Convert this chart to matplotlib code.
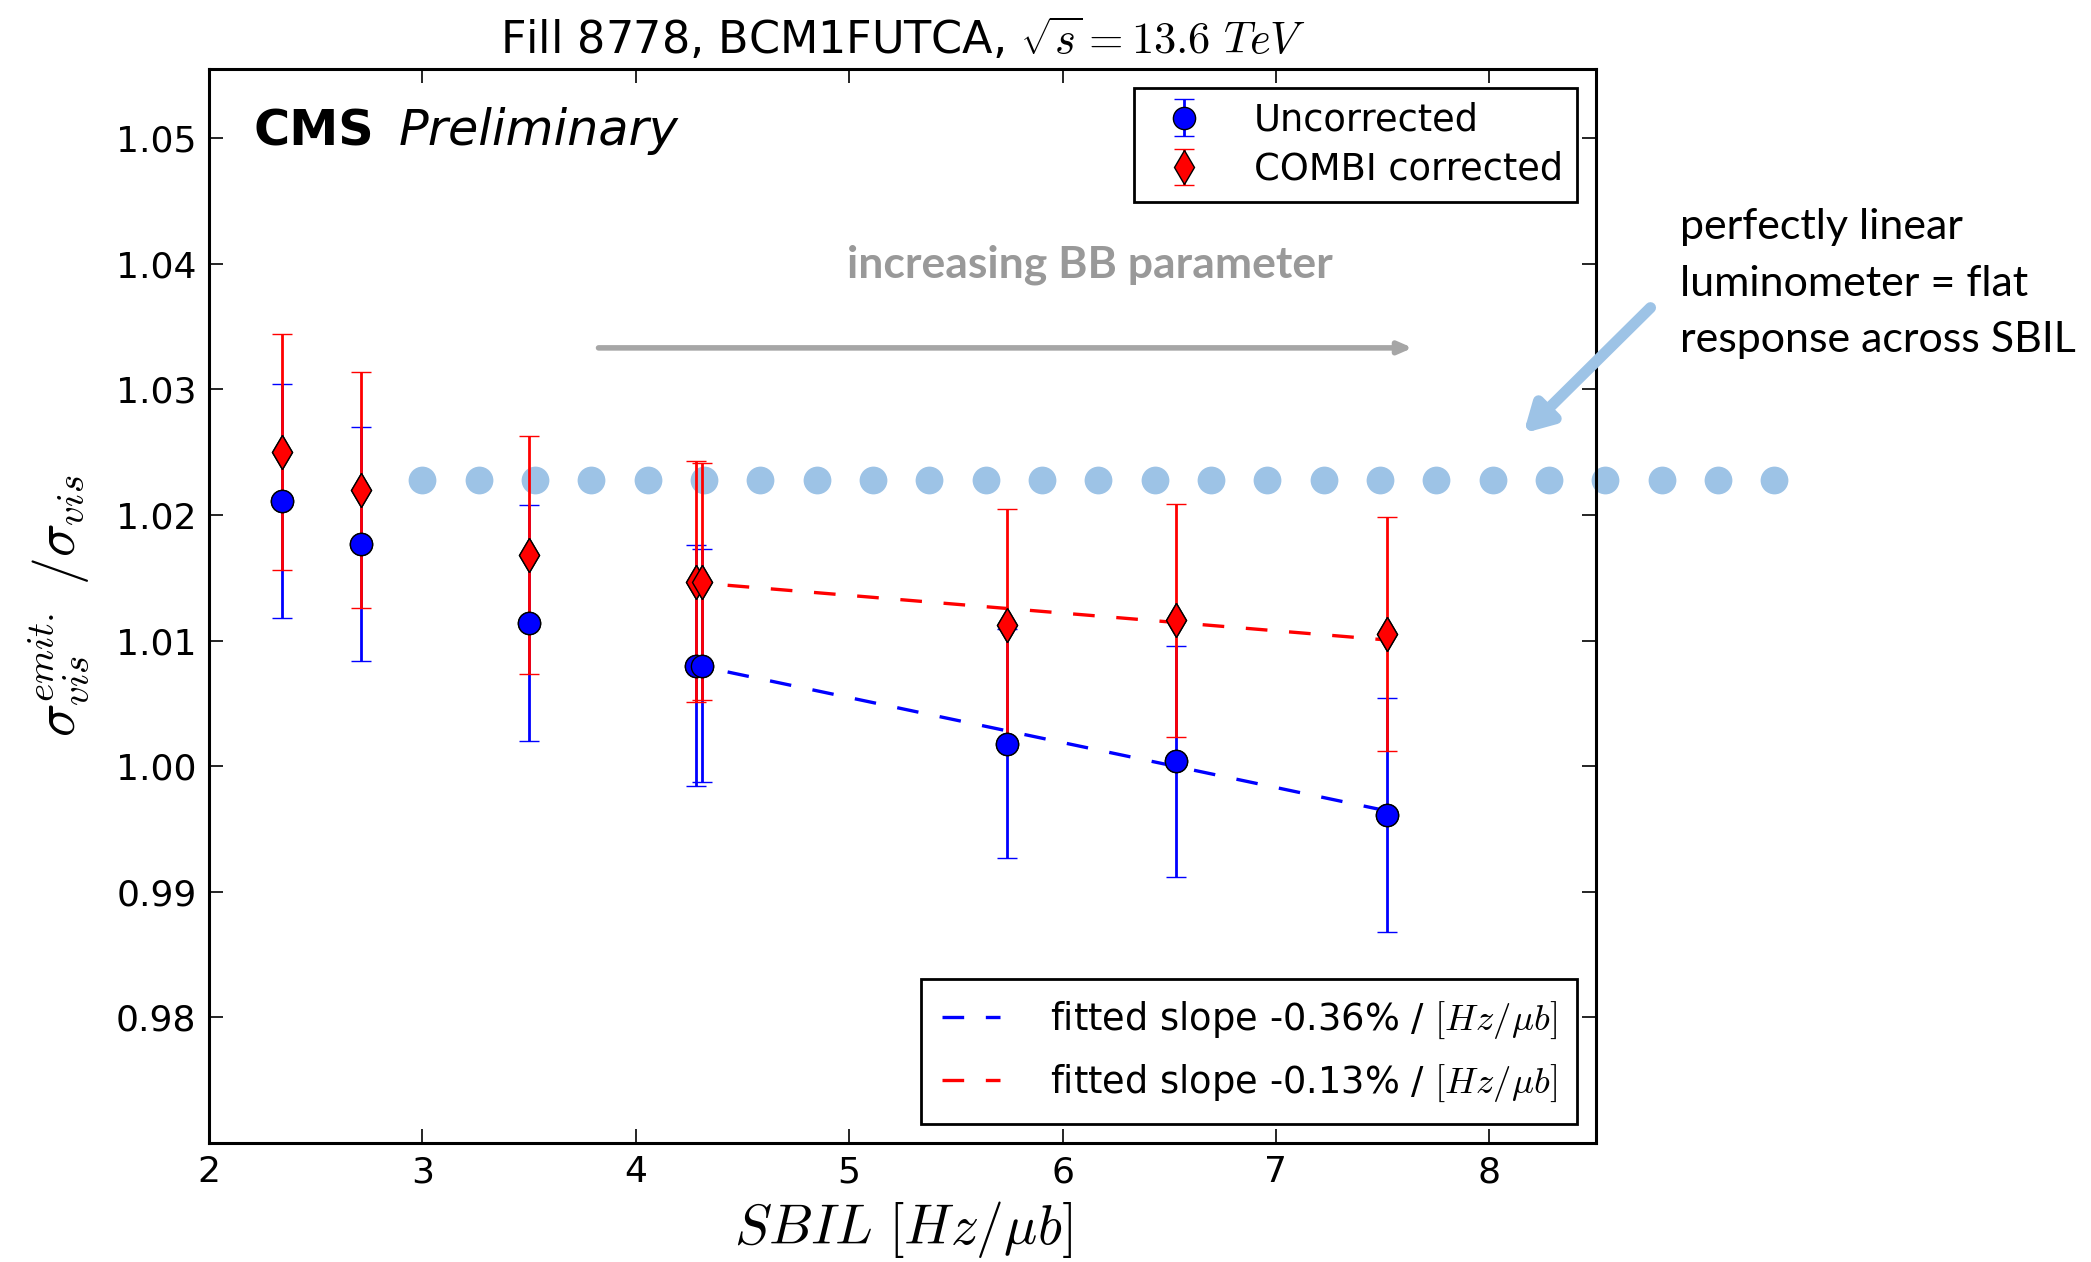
import matplotlib
matplotlib.use("Agg")
import matplotlib.pyplot as plt
import numpy as np

# ---------------- data ----------------
sbil = [2.34, 2.71, 3.50, 4.28, 4.31, 5.74, 6.53, 7.52]

uncorr     = [1.0211, 1.0177, 1.0114, 1.0080, 1.0080, 1.0018, 1.0004, 0.9961]
uncorr_err = [0.0093, 0.0093, 0.0094, 0.0096, 0.0093, 0.0091, 0.0092, 0.0093]

combi      = [1.0250, 1.0220, 1.0168, 1.0147, 1.0147, 1.0112, 1.0116, 1.0105]
combi_err  = [0.0094, 0.0094, 0.0095, 0.0096, 0.0094, 0.0093, 0.0093, 0.0093]

# fitted lines (value at start of fit range, slope per Hz/ub)
fit_range   = [4.43, 7.52]
fit_uncorr  = [1.0075, -0.00358]
fit_combi   = [1.0144, -0.00141]

# annotation: "flat response" reference level
ref_level = 1.0228
ref_x0, ref_step, ref_n = 3.0, 0.264, 25

plt.rcParams['mathtext.fontset'] = 'cm'
plt.rcParams['font.family'] = 'DejaVu Sans'

fig = plt.figure(figsize=(20.91, 12.62), dpi=100)
ax = fig.add_axes([0.100, 0.0943, 0.6633, 0.851])

# error bars (containers kept for the legend)
eb1 = ax.errorbar(sbil, uncorr, yerr=uncorr_err, fmt='o', color='blue', ecolor='blue',
                  mec='black', mew=1.0, ms=16, elinewidth=2.0, capsize=7,
                  capthick=1.8, zorder=3, label='Uncorrected')
eb2 = ax.errorbar(sbil, combi, yerr=combi_err, fmt='d', color='red', ecolor='red',
                  mec='black', mew=1.0, ms=17, elinewidth=2.0, capsize=7,
                  capthick=1.8, zorder=3, label='COMBI corrected')

# fit lines
xf = np.array(fit_range)
f1, = ax.plot(xf, fit_uncorr[0] + fit_uncorr[1] * (xf - xf[0]), color='blue', lw=2.4,
              dashes=(6.5, 6.5), zorder=4, label=r'fitted slope -0.36% / $[Hz/\mu b]$')
f2, = ax.plot(xf, fit_combi[0] + fit_combi[1] * (xf - xf[0]), color='red', lw=2.4,
              dashes=(6.5, 6.5), zorder=4, label=r'fitted slope -0.13% / $[Hz/\mu b]$')

# markers again on top of all bars
ax.plot(sbil, uncorr, 'o', color='blue', mec='black', mew=1.0, ms=16, zorder=5)
ax.plot(sbil, combi, 'd', color='red', mec='black', mew=1.0, ms=17, zorder=5)

leg1 = ax.legend(handles=[eb1, eb2], loc='upper right', fontsize=26.5, numpoints=1,
                 fancybox=False, edgecolor='black', framealpha=1,
                 bbox_to_anchor=(0.9865, 0.9826), borderaxespad=0,
                 borderpad=0.38, labelspacing=0.33, handlelength=2.0,
                 handletextpad=0.9)
leg1.get_frame().set_linewidth(2)
ax.add_artist(leg1)

leg2 = ax.legend(handles=[f1, f2], loc='lower right', fontsize=26.5,
                 fancybox=False, edgecolor='black', framealpha=1,
                 bbox_to_anchor=(0.9865, 0.0174), borderaxespad=0,
                 borderpad=0.55, labelspacing=0.6,
                 handlelength=1.6, handletextpad=1.35)
leg2.get_frame().set_linewidth(2)

# reference dots (flat response), extending outside the axes
ref_x = ref_x0 + ref_step * np.arange(ref_n)
ax.plot(ref_x, [ref_level] * ref_n, 'o', color='#9dc3e6', ms=20, mew=0,
        clip_on=False, zorder=2)

# axes styling
ax.set_xlim(2, 8.5)
ax.set_ylim(0.97, 1.0555)
ax.set_xticks([2, 3, 4, 5, 6, 7, 8])
ax.set_yticks([0.98, 0.99, 1.00, 1.01, 1.02, 1.03, 1.04, 1.05])
ax.yaxis.set_major_formatter(matplotlib.ticker.FormatStrFormatter('%.2f'))
ax.tick_params(direction='in', length=10, width=1.2, top=True, right=True,
               labelsize=26, pad=9)
for s in ax.spines.values():
    s.set_linewidth(2.2)

ax.set_title(r'Fill 8778, BCM1FUTCA, $\sqrt{s}=13.6\ TeV$', fontsize=32, pad=11)
ax.set_xlabel(r'$SBIL\ [Hz/\mu b]$', fontsize=40, labelpad=7)
ax.set_ylabel(r'$\sigma_{vis}^{emit.}\ /\sigma_{vis}$', fontsize=40, labelpad=18)

# CMS label
ax.text(0.032, 0.942, 'CMS', transform=ax.transAxes, fontsize=35.5,
        fontweight='bold', va='center', ha='left')
ax.text(0.137, 0.942, 'Preliminary', transform=ax.transAxes, fontsize=35.5,
        fontstyle='italic', va='center', ha='left')

# "increasing BB parameter" arrow
ax.annotate('', xy=(7.64, 1.0333), xytext=(3.825, 1.0333),
            arrowprops=dict(arrowstyle='-|>,head_length=0.8,head_width=0.35',
                            color='#a6a6a6', lw=4, shrinkA=0, shrinkB=0))
ax.text(6.13, 1.0399, 'increasing BB parameter', fontsize=32, fontweight='bold',
        color='#999999', ha='center', va='center', family=['Lato', 'DejaVu Sans'])

# right-hand annotation
ax.annotate('', xy=(8.16, 1.0265), xytext=(8.755, 1.0365),
            arrowprops=dict(arrowstyle='-|>,head_length=1.6,head_width=0.9',
                            color='#9dc3e6', lw=8, shrinkA=0, shrinkB=0),
            annotation_clip=False)
ax.text(8.893, 1.0384, 'perfectly linear\nluminometer = flat\nresponse across SBIL',
        fontsize=31, ha='left', va='center', linespacing=1.6,
        family=['Lato', 'DejaVu Sans'])

fig.savefig('out.png', dpi=100)
